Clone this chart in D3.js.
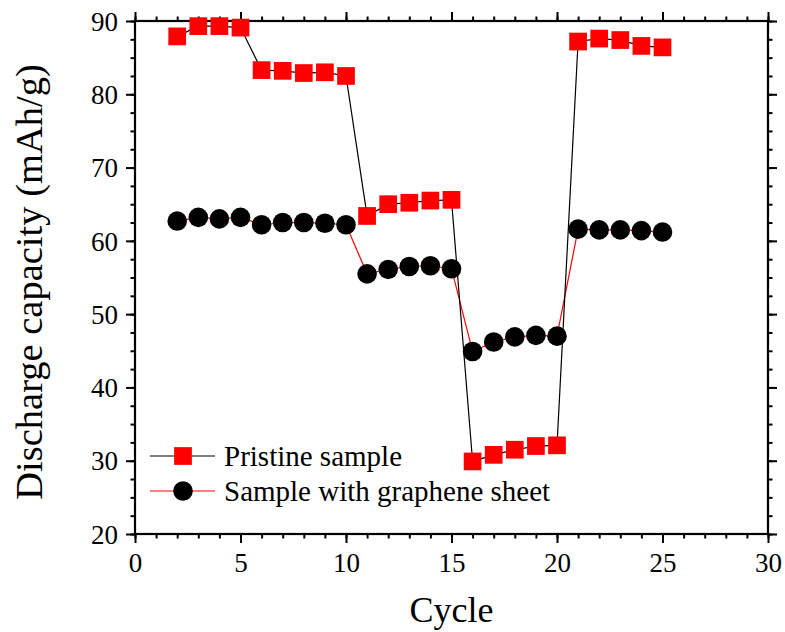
<!DOCTYPE html>
<html>
<head>
<meta charset="utf-8">
<script src="https://cdn.jsdelivr.net/npm/d3@7"></script>
<style>
  body { margin: 0; background: #fff; }
</style>
</head>
<body>
<div id="chart"></div>
<script>
// cycle numbers and discharge capacities (mAh/g)
const cycles = [2, 3, 4, 5, 6, 7, 8, 9, 10, 11, 12, 13, 14, 15, 16, 17, 18, 19, 20, 21, 22, 23, 24, 25];
const pristine = [87.9, 89.3, 89.3, 89.1, 83.3, 83.2, 82.9, 83.0, 82.5, 63.4, 65.0, 65.2, 65.5, 65.6,
  29.9, 30.8, 31.5, 32.0, 32.1, 87.2, 87.6, 87.4, 86.6, 86.4];
const graphene = [62.7, 63.2, 63.0, 63.2, 62.2, 62.5, 62.5, 62.4, 62.2, 55.5, 56.1, 56.5, 56.6, 56.2,
  44.9, 46.2, 46.9, 47.1, 47.0, 61.6, 61.5, 61.5, 61.4, 61.2];
const xTicks = [0, 5, 10, 15, 20, 25, 30];
const yTicks = [20, 30, 40, 50, 60, 70, 80, 90];
const legendLabels = ["Pristine sample", "Sample with graphene sheet"];

const FONT = "'Liberation Serif', 'Times New Roman', Times, serif";
const W = 785, H = 632;
const margin = { top: 21, right: 17, bottom: 98, left: 135 };
const width = W - margin.left - margin.right;
const height = H - margin.top - margin.bottom;

const svg = d3.select("#chart").append("svg")
  .attr("width", W)
  .attr("height", H);

const g = svg.append("g")
  .attr("transform", `translate(${margin.left},${margin.top})`);

const x = d3.scaleLinear().domain([0, 30]).range([0, width]);
const y = d3.scaleLinear().domain([20, 90]).range([height, 0]);

const minorX = d3.range(0, 30.01, 1);
const minorY = d3.range(20, 90.01, 2.5);

// minor ticks (outward, no labels) on all four sides
function minorAxis(axis, ticks) {
  return axis.tickValues(ticks).tickSize(4.5).tickFormat("");
}
g.append("g").attr("transform", `translate(0,${height})`)
  .call(minorAxis(d3.axisBottom(x), minorX));
g.append("g")
  .call(minorAxis(d3.axisTop(x), minorX));
g.append("g")
  .call(minorAxis(d3.axisLeft(y), minorY));
g.append("g").attr("transform", `translate(${width},0)`)
  .call(minorAxis(d3.axisRight(y), minorY));

// major ticks
const xAxis = g.append("g").attr("transform", `translate(0,${height})`)
  .call(d3.axisBottom(x).tickValues(xTicks).tickSize(9).tickPadding(10).tickFormat(d3.format("d")));
const yAxis = g.append("g")
  .call(d3.axisLeft(y).tickValues(yTicks).tickSize(9).tickPadding(8).tickFormat(d3.format("d")));
g.append("g").call(d3.axisTop(x).tickValues(xTicks).tickSize(9).tickFormat(""));
g.append("g").attr("transform", `translate(${width},0)`)
  .call(d3.axisRight(y).tickValues(yTicks).tickSize(9).tickFormat(""));

g.selectAll(".domain").remove();
g.selectAll(".tick line").attr("stroke", "#000").attr("stroke-width", 2);
xAxis.selectAll("text").style("font-family", FONT).style("font-size", "27px").attr("fill", "#000");
yAxis.selectAll("text").style("font-family", FONT).style("font-size", "27px").attr("fill", "#000")
  .attr("dy", "0.34em");

// frame
g.append("rect")
  .attr("width", width)
  .attr("height", height)
  .attr("fill", "none")
  .attr("stroke", "#000")
  .attr("stroke-width", 2.2);

const line = d3.line()
  .x((d, i) => x(cycles[i]))
  .y(d => y(d));

// graphene sample: red line, black circles
g.append("path")
  .datum(graphene)
  .attr("d", line)
  .attr("fill", "none")
  .attr("stroke", "#ff0000")
  .attr("stroke-width", 1.2);

g.append("g").selectAll("circle")
  .data(graphene)
  .enter()
  .append("circle")
  .attr("cx", (d, i) => x(cycles[i]))
  .attr("cy", d => y(d))
  .attr("r", 9.8)
  .attr("fill", "#000");

// pristine sample: black line, red squares
g.append("path")
  .datum(pristine)
  .attr("d", line)
  .attr("fill", "none")
  .attr("stroke", "#000")
  .attr("stroke-width", 1.2);

const sq = 17.7;
g.append("g").selectAll("rect")
  .data(pristine)
  .enter()
  .append("rect")
  .attr("x", (d, i) => x(cycles[i]) - sq / 2)
  .attr("y", d => y(d) - sq / 2)
  .attr("width", sq)
  .attr("height", sq)
  .attr("fill", "#ff0000");

// legend
const legend = svg.append("g");
const rows = [
  { label: legendLabels[0], line: "#000", yPos: 456, marker: "square" },
  { label: legendLabels[1], line: "#ff0000", yPos: 491, marker: "circle" }
];
rows.forEach(r => {
  legend.append("line")
    .attr("x1", 150).attr("x2", 215)
    .attr("y1", r.yPos).attr("y2", r.yPos)
    .attr("stroke", r.line)
    .attr("stroke-width", 1.2);
  if (r.marker === "square") {
    legend.append("rect")
      .attr("x", 183 - sq / 2).attr("y", r.yPos - sq / 2)
      .attr("width", sq).attr("height", sq)
      .attr("fill", "#ff0000");
  } else {
    legend.append("circle")
      .attr("cx", 183).attr("cy", r.yPos).attr("r", 9.8)
      .attr("fill", "#000");
  }
  legend.append("text")
    .attr("x", 224)
    .attr("y", r.yPos)
    .attr("dy", "0.33em")
    .style("font-family", FONT)
    .style("font-size", "29px")
    .text(r.label);
});

// axis titles
svg.append("text")
  .attr("x", margin.left + width / 2)
  .attr("y", 622)
  .attr("text-anchor", "middle")
  .style("font-family", FONT)
  .style("font-size", "36px")
  .text("Cycle");

svg.append("text")
  .attr("transform", "translate(42,282) rotate(-90)")
  .attr("text-anchor", "middle")
  .style("font-family", FONT)
  .style("font-size", "38.5px")
  .text("Discharge capacity (mAh/g)");
</script>
</body>
</html>
